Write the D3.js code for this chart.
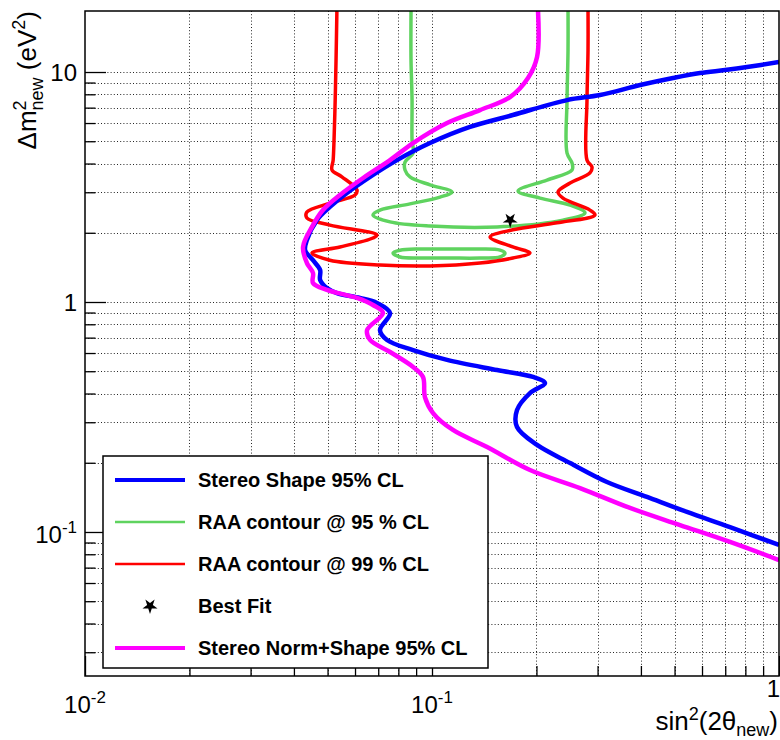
<!DOCTYPE html>
<html><head><meta charset="utf-8">
<script src="https://cdn.jsdelivr.net/npm/d3@7"></script>
<style>
html,body{margin:0;padding:0;background:#fff;}
svg{display:block;font-family:"Liberation Sans",Arial,Helvetica,sans-serif;}
</style></head>
<body><svg id="c" width="780" height="740"></svg>
<script>
// ---- data (sin^2(2theta), dm^2 [eV^2]) ----
const stereoShape = [[1.0,11.05],[0.809,10.51],[0.699,10.2],[0.592,9.90],[0.495,9.42],[0.398,8.78],[0.305,7.94],[0.245,7.55],[0.171,6.50],[0.1287,5.77],[0.0987,4.91],[0.0793,4.14],[0.0663,3.50],[0.0569,2.98],[0.0508,2.59],[0.0466,2.27],[0.0436,1.86],[0.0431,1.68],[0.0454,1.52],[0.0476,1.377],[0.0476,1.246],[0.0498,1.150],[0.0532,1.094],[0.0620,1.041],[0.0694,0.990],[0.0757,0.896],[0.0708,0.755],[0.0742,0.684],[0.0882,0.618],[0.1105,0.560],[0.154,0.506],[0.1955,0.472],[0.2117,0.444],[0.1916,0.402],[0.1758,0.339],[0.1758,0.286],[0.2008,0.239],[0.250,0.1995],[0.3193,0.165],[0.4165,0.142],[0.543,0.1222],[0.7225,0.105],[1.0,0.0878]];
const stereoNormShape = [[0.2021,18.4],[0.2008,11.62],[0.1891,9.42],[0.1678,7.78],[0.1375,6.83],[0.1105,6.00],[0.0882,4.91],[0.0757,4.14],[0.0633,3.46],[0.0543,2.92],[0.0485,2.51],[0.0451,2.12],[0.0425,1.735],[0.0436,1.477],[0.0454,1.337],[0.0454,1.21],[0.0498,1.128],[0.0608,1.041],[0.0676,0.970],[0.0722,0.896],[0.0650,0.755],[0.0663,0.684],[0.0757,0.606],[0.0882,0.522],[0.0942,0.472],[0.0954,0.386],[0.1007,0.329],[0.1149,0.2777],[0.1441,0.2342],[0.1916,0.186],[0.267,0.1553],[0.372,0.1272],[0.5185,0.1072],[0.7225,0.0905],[1.0,0.0755]];
const raa95 = [[0.0870,18.4],[0.0870,11.28],[0.0876,7.55],[0.0876,5.06],[0.0882,4.44],[0.0836,4.06],[0.0836,3.75],[0.0864,3.50],[0.0987,3.23],[0.1142,3.01],[0.1055,2.86],[0.0864,2.67],[0.0708,2.51],[0.0676,2.39],[0.0757,2.23],[0.0987,2.14],[0.154,2.12],[0.2385,2.27],[0.276,2.44],[0.250,2.64],[0.2048,2.83],[0.177,3.04],[0.2145,3.39],[0.2533,3.75],[0.2533,4.02],[0.245,4.44],[0.245,7.55],[0.2466,12.46],[0.2466,18.4]];
const raa95Island = [[0.0772,1.633],[0.0809,1.68],[0.0923,1.70],[0.1119,1.70],[0.1375,1.70],[0.157,1.68],[0.1623,1.633],[0.157,1.569],[0.1375,1.553],[0.1119,1.553],[0.0923,1.553],[0.0809,1.569]];
const raa99 = [[0.0532,18.4],[0.0529,11.28],[0.0526,7.55],[0.0522,5.06],[0.0519,4.14],[0.0515,3.75],[0.055,3.50],[0.0608,3.07],[0.060,2.92],[0.0508,2.69],[0.0436,2.46],[0.0436,2.32],[0.0508,2.16],[0.0694,1.956],[0.0676,1.898],[0.0543,1.735],[0.0451,1.633],[0.0508,1.52],[0.0708,1.448],[0.0987,1.434],[0.1375,1.477],[0.171,1.553],[0.1916,1.633],[0.171,1.735],[0.147,1.917],[0.171,2.06],[0.2292,2.21],[0.2949,2.39],[0.2852,2.51],[0.2385,2.83],[0.2307,3.01],[0.250,3.29],[0.2852,3.64],[0.2891,3.86],[0.2797,4.14],[0.2797,7.55],[0.2816,12.46],[0.2816,18.4]];
const bestFit = [[0.168,2.27]];

const xDomain = [0.01, 1];
const yDomain = [0.02365, 18.42];
const xMajor = [0.01, 0.1, 1];
const xMajorLabels = [["10","-2"],["10","-1"],["1",""]];
const xMinor = [0.02,0.03,0.04,0.05,0.06,0.07,0.08,0.09,0.2,0.3,0.4,0.5,0.6,0.7,0.8,0.9];
const yMajor = [0.1, 1, 10];
const yMajorLabels = [["10","-1"],["1",""],["10",""]];
const yMinor = [0.03,0.04,0.05,0.06,0.07,0.08,0.09,0.2,0.3,0.4,0.5,0.6,0.7,0.8,0.9,2,3,4,5,6,7,8,9];

const legendLabels = ["Stereo Shape 95% CL","RAA contour @ 95 % CL","RAA contour @ 99 % CL","Best Fit","Stereo Norm+Shape 95% CL"];
const colBlue="#0000ff", colGreen="#5fd35f", colRed="#ff0000", colMag="#ff00ff";

// ---- layout ----
const L=85, R=779, T=11, B=676;
const svg = d3.select("#c");
const x = d3.scaleLog().domain(xDomain).range([L,R]);
const y = d3.scaleLog().domain(yDomain).range([B,T]);

svg.append("defs").append("clipPath").attr("id","clip")
  .append("rect").attr("x",L).attr("y",T).attr("width",R-L).attr("height",B-T);

// grid
const grid = svg.append("g").attr("stroke","#000").attr("stroke-width",1)
  .attr("stroke-dasharray","1,2.2").attr("opacity",0.85);
[...xMinor, 0.1].forEach(v=>{
  grid.append("line").attr("x1",Math.round(x(v))+0.5).attr("x2",Math.round(x(v))+0.5).attr("y1",T).attr("y2",B);
});
[...yMinor, ...yMajor].forEach(v=>{
  grid.append("line").attr("y1",Math.round(y(v))+0.5).attr("y2",Math.round(y(v))+0.5).attr("x1",L).attr("x2",R);
});

// axes (ticks inward)
function styleAxis(g){ g.select(".domain").remove(); g.selectAll("line").attr("stroke","#000").attr("stroke-width",1.3); g.selectAll("text").remove(); }
svg.append("g").attr("transform",`translate(${L},0)`)
  .call(d3.axisRight(y).tickValues(yMajor).tickSize(21).tickFormat(()=>"")).call(styleAxis);
svg.append("g").attr("transform",`translate(${L},0)`)
  .call(d3.axisRight(y).tickValues(yMinor).tickSize(10.5).tickFormat(()=>"")).call(styleAxis);
svg.append("g").attr("transform",`translate(0,${B})`)
  .call(d3.axisTop(x).tickValues(xMajor).tickSize(20).tickFormat(()=>"")).call(styleAxis);
svg.append("g").attr("transform",`translate(0,${B})`)
  .call(d3.axisTop(x).tickValues(xMinor).tickSize(10).tickFormat(()=>"")).call(styleAxis);

// tick labels
function powLabel(sel, lab){
  sel.append("tspan").text(lab[0]);
  if(lab[1]) sel.append("tspan").attr("font-size",17).attr("dy",-10).text(lab[1]);
}
yMajor.forEach((v,i)=>{
  const lab=yMajorLabels[i];
  const t=svg.append("text").attr("x",77).attr("y",y(v)+(lab[1]?11:9)).attr("text-anchor","end")
    .attr("font-size",24).attr("fill","#000");
  powLabel(t,lab);
});
xMajor.forEach((v,i)=>{
  const lab=xMajorLabels[i];
  const atEdge = x(v) > R-5;   // keep the last label inside the page
  const t=svg.append("text").attr("x",atEdge ? 780 : x(v)).attr("y",lab[1]?713:697)
    .attr("text-anchor",atEdge ? "end" : "middle")
    .attr("font-size",24).attr("fill","#000");
  powLabel(t,lab);
});

// axis titles
const xt = svg.append("text").attr("x",R-1).attr("y",730).attr("text-anchor","end").attr("font-size",26).attr("fill","#000");
xt.append("tspan").text("sin");
xt.append("tspan").attr("font-size",18).attr("dy",-10).text("2");
xt.append("tspan").attr("dy",10).text("(2θ");
xt.append("tspan").attr("font-size",18).attr("dy",6).text("new");
xt.append("tspan").attr("dy",-6).text(")");

const yg = svg.append("g").attr("transform",`translate(36,${T}) rotate(-90)`);
const yt = yg.append("text").attr("x",0).attr("y",0).attr("font-size",26).attr("fill","#000");
yt.append("tspan").text("Δm");
yt.append("tspan").attr("font-size",18).attr("dy",-10).text("2");
yt.append("tspan").attr("font-size",18).attr("dx",-10).attr("dy",17).text("new");
yt.append("tspan").attr("dy",-7).text(" (eV");
yt.append("tspan").attr("font-size",18).attr("dy",-11).text("2");
yt.append("tspan").attr("dy",11).text(")");
const w = yt.node().getBBox().width;
yt.attr("x",-w);

// curves
const line = d3.line().x(d=>x(d[0])).y(d=>y(d[1])).curve(d3.curveCatmullRom.alpha(0.5));
const lineClosed = d3.line().x(d=>x(d[0])).y(d=>y(d[1])).curve(d3.curveCatmullRomClosed.alpha(0.5));
const plot = svg.append("g").attr("clip-path","url(#clip)").attr("fill","none").attr("stroke-linejoin","round");
plot.append("path").attr("d",line(raa95)).attr("stroke",colGreen).attr("stroke-width",3.5);
plot.append("path").attr("d",lineClosed(raa95Island)).attr("stroke",colGreen).attr("stroke-width",3.5);
plot.append("path").attr("d",line(raa99)).attr("stroke",colRed).attr("stroke-width",3.5);
plot.append("path").attr("d",line(stereoShape)).attr("stroke",colBlue).attr("stroke-width",4.5);
plot.append("path").attr("d",line(stereoNormShape)).attr("stroke",colMag).attr("stroke-width",4.5);
const star = d3.symbol().type(d3.symbolStar).size(70);
svg.append("g").selectAll("path").data(bestFit).join("path")
  .attr("transform",d=>`translate(${x(d[0])},${y(d[1])}) rotate(180)`).attr("d",star()).attr("fill","#000");

// frame
svg.append("rect").attr("x",L).attr("y",T).attr("width",R-L).attr("height",B-T)
  .attr("fill","none").attr("stroke","#000").attr("stroke-width",1.5);

// legend
const lg = svg.append("g");
lg.append("rect").attr("x",103).attr("y",456).attr("width",385).attr("height",212)
  .attr("fill","#fff").attr("stroke","#000").attr("stroke-width",1.5);
const rowY = i => 480 + i*42;
const samples = [{c:colBlue,w:4},{c:colGreen,w:2.5},{c:colRed,w:2.5},null,{c:colMag,w:4}];
samples.forEach((s,i)=>{
  if(s) lg.append("line").attr("x1",115).attr("x2",185).attr("y1",rowY(i)).attr("y2",rowY(i)).attr("stroke",s.c).attr("stroke-width",s.w);
  else lg.append("path").attr("transform",`translate(150,${rowY(i)}) rotate(180)`).attr("d",star()).attr("fill","#000");
});
legendLabels.forEach((t,i)=>{
  lg.append("text").attr("x",198).attr("y",rowY(i)+7).attr("font-size",20).attr("font-weight","bold")
    .attr("fill","#000").text(t);
});
</script></body></html>
